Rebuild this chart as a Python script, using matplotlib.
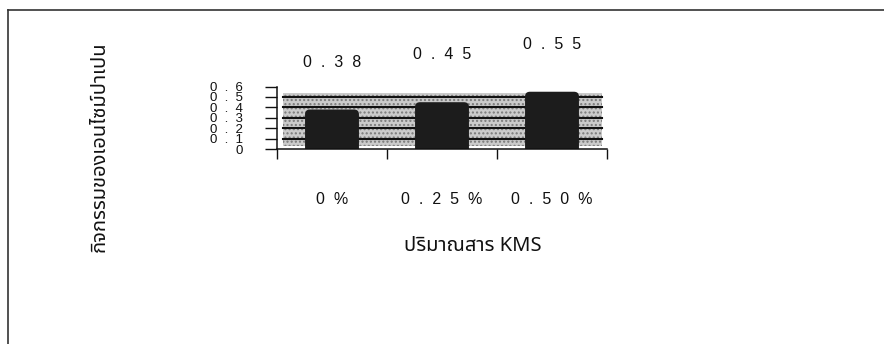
import matplotlib
matplotlib.use("Agg")
import matplotlib.pyplot as plt
from matplotlib import font_manager
from matplotlib.ft2font import FT2Font
from matplotlib.patches import FancyBboxPatch, Rectangle
from matplotlib.lines import Line2D

# ---- data ----
categories = ["0%", "0.25%", "0.50%"]
activity = [0.38, 0.45, 0.55]
y_ticks = [0.0, 0.1, 0.2, 0.3, 0.4, 0.5, 0.6]
x_title = "ปริมาณสาร KMS"
y_title = "กิจกรรมของเอนไซม์ปาเปน"


def thai_family():
    """Return an installed family that covers Thai script."""
    preferred = ["Noto Sans Thai", "Noto Sans Thai UI", "Loma", "Garuda",
                 "Tlwg Typo", "Norasi", "Kinnari", "Sawasdee"]
    found = []
    for f in font_manager.fontManager.ttflist:
        try:
            if 0x0E01 in FT2Font(f.fname).get_charmap():
                found.append(f.name)
        except Exception:
            pass
    for p in preferred:
        if p in found:
            return p
    return found[0] if found else "DejaVu Sans"


def spaced(s, gap="  "):
    return gap.join(list(s.replace(" ", "")))


THAI = thai_family()
NUM = "Liberation Sans"
INK = "#111111"

fig = plt.figure(figsize=(8.84, 3.44), dpi=100)
ax = fig.add_axes([277 / 884, 1 - 149.3 / 344, 330 / 884, 62.8 / 344])

ax.set_xlim(-0.5, 2.5)
ax.set_ylim(0, 0.6)

# stippled plot-area backdrop
ax.add_patch(Rectangle((-0.445, 0.035), 2.9, 0.505, facecolor="#cbcbcb",
                       edgecolor="#7a7a7a", hatch="....", linewidth=0,
                       zorder=0))
for v in y_ticks[1:-1]:
    ax.axhline(v, xmin=0.018, xmax=0.985, color=INK, lw=1.5, zorder=1)

# bars with rounded tops
xs = list(range(len(categories)))
bars = ax.bar(xs, activity, width=0.49, color="#1c1c1c")
for r in bars:
    r.set_visible(False)
    ax.add_patch(FancyBboxPatch((r.get_x(), -0.1), r.get_width(),
                                r.get_height() + 0.1,
                                boxstyle="round,pad=0,rounding_size=0.045",
                                facecolor="#1c1c1c", edgecolor="none",
                                zorder=2, clip_on=True))

for x, v in zip(xs, activity):
    ax.annotate(spaced(f"{v:.2f}"), (x, v), xytext=(0, 34),
                textcoords="offset points", ha="center", va="center",
                fontsize=11.5, family=NUM, color=INK)

# axes styling
for side in ("top", "right"):
    ax.spines[side].set_visible(False)
for side in ("left", "bottom"):
    ax.spines[side].set_color(INK)
    ax.spines[side].set_linewidth(1.1)

ax.set_yticks(y_ticks)
ax.set_yticklabels(["0" if t == 0 else spaced(f"{t:.1f}") for t in y_ticks],
                   family=NUM, fontsize=9.5, color="#222222")
ax.tick_params(axis="y", direction="out", length=8.5, width=1.0,
               pad=16, colors=INK)

ax.set_xticks(xs)
ax.set_xticklabels([spaced(c) for c in categories], family=NUM,
                   fontsize=11.5, color=INK)
ax.tick_params(axis="x", which="major", length=0, pad=31)
ax.set_xticks([-0.5, 0.5, 1.5, 2.5], minor=True)
ax.tick_params(axis="x", which="minor", direction="out", length=7,
               width=1.0, colors=INK)

fig.text(473 / 884, 1 - 246 / 344, x_title, family=THAI, fontsize=14.5,
         ha="center", va="center", color=INK)
fig.text(100 / 884, 1 - 147 / 344, y_title, family=THAI, fontsize=14.5,
         fontweight="bold", rotation=90, ha="center", va="center",
         color=INK)

# outer frame
fig.add_artist(Line2D([8 / 884, 1.0], [1 - 10 / 344] * 2,
                      transform=fig.transFigure, color="#333333", lw=1.2))
fig.add_artist(Line2D([8 / 884] * 2, [0.0, 1 - 10 / 344],
                      transform=fig.transFigure, color="#333333", lw=1.2))

fig.savefig("out.png", dpi=100, facecolor="white")
